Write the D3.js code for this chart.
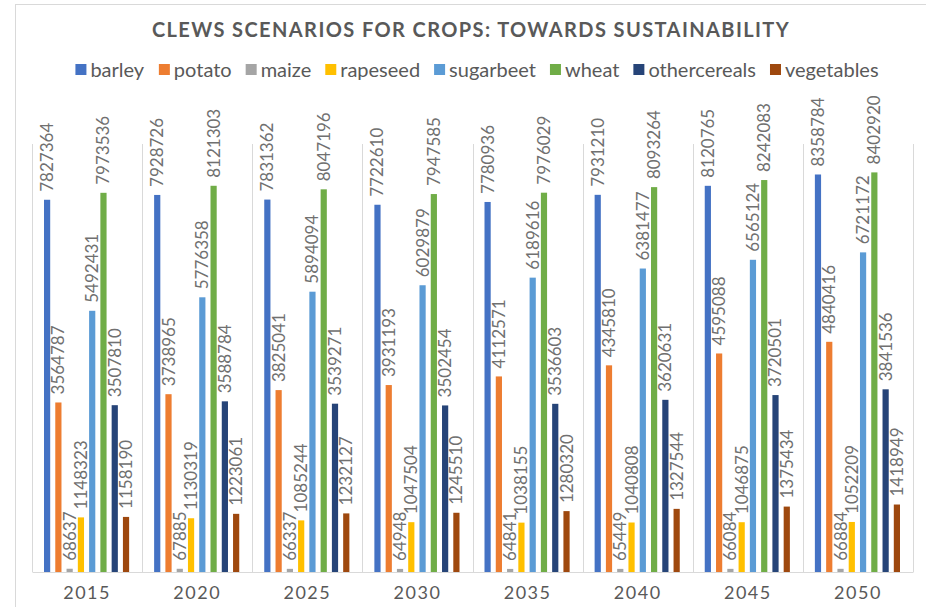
<!DOCTYPE html>
<html>
<head>
<meta charset="utf-8">
<script src="https://cdn.jsdelivr.net/npm/d3@7"></script>
<style>
  html, body { margin: 0; padding: 0; background: #fff; }
  svg { display: block; font-family: Lato, "Open Sans", sans-serif; }
</style>
</head>
<body>
<div id="chart"></div>
<script>
// years on the category axis
const years = ['2015', '2020', '2025', '2030', '2035', '2040', '2045', '2050']
const crops = ['barley', 'potato', 'maize', 'rapeseed', 'sugarbeet', 'wheat', 'othercereals', 'vegetables']

// values per crop, one per year
const barley       = [7827364, 7928726, 7831362, 7722610, 7780936, 7931210, 8120765, 8358784]
const potato       = [3564787, 3738965, 3825041, 3931193, 4112571, 4345810, 4595088, 4840416]
const maize        = [68637, 67885, 66337, 64948, 64841, 65449, 66084, 66884]
const rapeseed     = [1148323, 1130319, 1085244, 1047504, 1038155, 1040808, 1046875, 1052209]
const sugarbeet    = [5492431, 5776358, 5894094, 6029879, 6189616, 6381477, 6565124, 6721172]
const wheat        = [7973536, 8121303, 8047196, 7947585, 7976029, 8093264, 8242083, 8402920]
const othercereals = [3507810, 3588784, 3539271, 3502454, 3536603, 3620631, 3720501, 3841536]
const vegetables   = [1158190, 1223061, 1232127, 1245510, 1280320, 1327544, 1375434, 1418949]

const colors = ['#4472C4', '#ED7D31', '#A5A5A5', '#FFC000', '#5B9BD5', '#70AD47', '#264478', '#9E480E']

const seriesValues = [barley, potato, maize, rapeseed, sugarbeet, wheat, othercereals, vegetables]
const table = years.map((y, i) => ({
  year: y,
  values: crops.map((c, k) => ({ crop: c, value: seriesValues[k][i] }))
}))

const width = 926
const height = 607
const plot = { left: 32, right: 913, top: 144, bottom: 572 }
const textColor = '#595959'

const svg = d3.select('#chart')
  .append('svg')
  .attr('width', width)
  .attr('height', height)

// chart frame
svg.append('rect')
  .attr('x', 15.5)
  .attr('y', 4.5)
  .attr('width', width)
  .attr('height', height)
  .attr('fill', 'none')
  .attr('stroke', '#d9d9d9')

// title
const title = svg.append('text')
  .attr('x', 471)
  .attr('y', 37)
  .attr('text-anchor', 'middle')
  .attr('fill', textColor)
  .attr('font-size', 20)
  .attr('font-weight', 'bold')
  .text('CLEWS SCENARIOS FOR CROPS: TOWARDS SUSTAINABILITY')
const tw = title.node().getComputedTextLength()
const nChars = title.text().length
title.attr('letter-spacing', ((637 - tw) / (nChars - 1)).toFixed(2))

// scales
const x0 = d3.scaleBand()
  .domain(years)
  .range([plot.left, plot.right])
  .padding(0)

const x1 = d3.scaleBand()
  .domain(crops)
  .range([12, x0.bandwidth() - 13])
  .paddingInner(0.45)
  .paddingOuter(0)

const y = d3.scaleLinear()
  .domain([0, 9000000])
  .range([plot.bottom, plot.top])

// vertical category gridlines
const xAxis = d3.axisBottom(x0).tickSize(0).tickPadding(14)
svg.append('g')
  .selectAll('line')
  .data(d3.range(years.length + 1))
  .join('line')
  .attr('x1', i => Math.round(plot.left + i * x0.step()) + 0.5)
  .attr('x2', i => Math.round(plot.left + i * x0.step()) + 0.5)
  .attr('y1', plot.top)
  .attr('y2', plot.bottom)
  .attr('stroke', '#d9d9d9')

// bars
const groups = svg.append('g')
  .selectAll('g')
  .data(table)
  .join('g')
  .attr('transform', d => `translate(${x0(d.year)},0)`)

groups.selectAll('rect')
  .data(d => d.values)
  .join('rect')
  .attr('x', d => x1(d.crop))
  .attr('y', d => y(d.value))
  .attr('width', x1.bandwidth())
  .attr('height', d => y(0) - y(d.value))
  .attr('fill', (d, i) => colors[i])

// value labels, rotated
groups.selectAll('text')
  .data(d => d.values)
  .join('text')
  .attr('transform', d => `translate(${x1(d.crop) + x1.bandwidth() / 2 + 6},${y(d.value) - 8}) rotate(-90)`)
  .attr('fill', '#707070')
  .attr('font-size', 17)
  .text(d => d.value)

// category axis
const ax = svg.append('g')
  .attr('transform', `translate(0,${plot.bottom})`)
  .call(xAxis)
ax.select('.domain').attr('stroke', '#d9d9d9')
ax.selectAll('text')
  .attr('fill', textColor)
  .attr('font-size', 18)
  .attr('letter-spacing', 1.5)
  .attr('font-family', 'Lato, sans-serif')
  .attr('dy', '0.71em')

// legend
const legend = svg.append('g')
const items = legend.selectAll('g')
  .data(crops)
  .join('g')
items.append('rect')
  .attr('width', 11)
  .attr('height', 11)
  .attr('y', -6)
  .attr('fill', (d, i) => colors[i])
items.append('text')
  .attr('x', 15)
  .attr('dy', '0.35em')
  .attr('fill', textColor)
  .attr('font-size', 20)
  .text(d => d)

let cursor = 0
const itemGap = 14
items.each(function () {
  const w = this.getBBox().width
  d3.select(this).attr('transform', `translate(${cursor},70)`)
  cursor += w + itemGap
})
legend.attr('transform', `translate(${477 - (cursor - itemGap) / 2},0)`)
</script>
</body>
</html>
